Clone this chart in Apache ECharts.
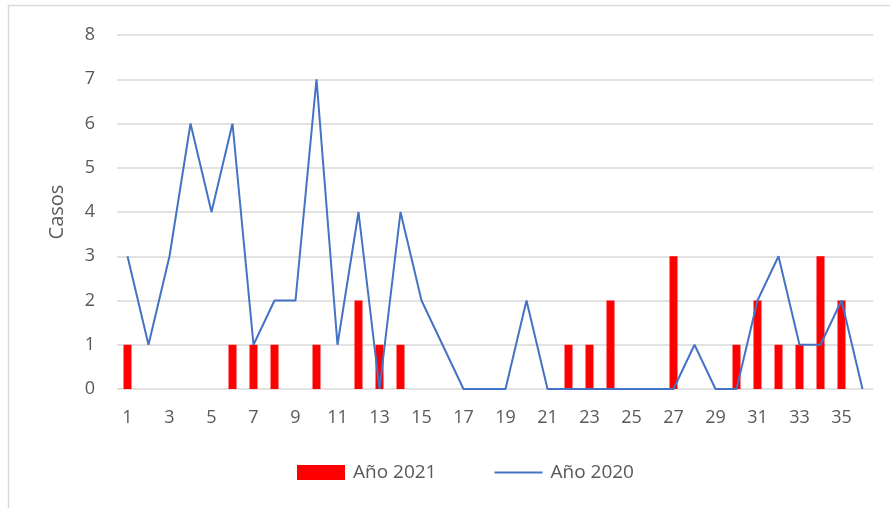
<!DOCTYPE html>
<html>
<head>
<meta charset="utf-8">
<script src="https://cdn.jsdelivr.net/npm/echarts@6/dist/echarts.min.js"></script>
<style>
  html, body { margin: 0; padding: 0; background: #ffffff; }
  #chart { width: 890px; height: 508px; }
</style>
</head>
<body>
<div id="chart"></div>
<script>
// Semanas epidemiológicas 1..36
const semanas = Array.from({ length: 36 }, (_, i) => String(i + 1));

// Casos por semana, año 2021 (barras)
const casos2021 = [1, 0, 0, 0, 0, 1, 1, 1, 0, 1, 0, 2, 1, 1, 0, 0, 0, 0,
                   0, 0, 0, 1, 1, 2, 0, 0, 3, 0, 0, 1, 2, 1, 1, 3, 2, 0];

// Casos por semana, año 2020 (línea)
const casos2020 = [3, 1, 3, 6, 4, 6, 1, 2, 2, 7, 1, 4, 0, 4, 2, 1, 0, 0,
                   0, 2, 0, 0, 0, 0, 0, 0, 0, 1, 0, 0, 2, 3, 1, 1, 2, 0];

const yMin = 0, yMax = 8, yStep = 1;

const chart = echarts.init(document.getElementById('chart'));
const font = '"Open Sans", "Noto Sans", sans-serif';

chart.setOption({
  animation: false,
  textStyle: { fontFamily: font },
  graphic: [{
    type: 'rect',
    shape: { x: 8.5, y: 5.5, width: 900, height: 600 },
    style: { fill: 'none', stroke: '#d9d9d9', lineWidth: 1.5 },
    silent: true
  }],
  grid: { left: 117, right: 17, top: 35, bottom: 119 },
  legend: {
    left: 297,
    top: 463,
    padding: 0,
    itemWidth: 48,
    itemHeight: 15,
    itemGap: 57,
    textStyle: { fontSize: 19, color: '#595959', fontFamily: font, padding: [0, 0, 0, 3] },
    data: [
      { name: 'Año 2021', icon: 'rect' },
      { name: 'Año 2020', itemStyle: { opacity: 0 } }
    ]
  },
  xAxis: {
    type: 'category',
    data: semanas,
    boundaryGap: true,
    axisLine: { show: false },
    axisTick: { show: false },
    axisLabel: { interval: 1, fontSize: 18, color: '#595959', margin: 20 }
  },
  yAxis: {
    type: 'value',
    min: yMin,
    max: yMax,
    interval: yStep,
    name: 'Casos',
    nameLocation: 'middle',
    nameGap: 50,
    nameTextStyle: { fontSize: 20, color: '#595959' },
    axisLine: { show: false },
    axisTick: { show: false },
    axisLabel: { fontSize: 18, color: '#595959', margin: 22 },
    splitLine: { lineStyle: { color: '#d9d9d9', width: 1.5 } }
  },
  series: [
    {
      name: 'Año 2021',
      type: 'bar',
      data: casos2021,
      barWidth: 8,
      itemStyle: { color: '#ff0000' },
      z: 2
    },
    {
      name: 'Año 2020',
      type: 'line',
      data: casos2020,
      symbol: 'none',
      lineStyle: { color: '#4472c4', width: 2 },
      itemStyle: { color: '#4472c4' },
      z: 3
    }
  ]
});
</script>
</body>
</html>
